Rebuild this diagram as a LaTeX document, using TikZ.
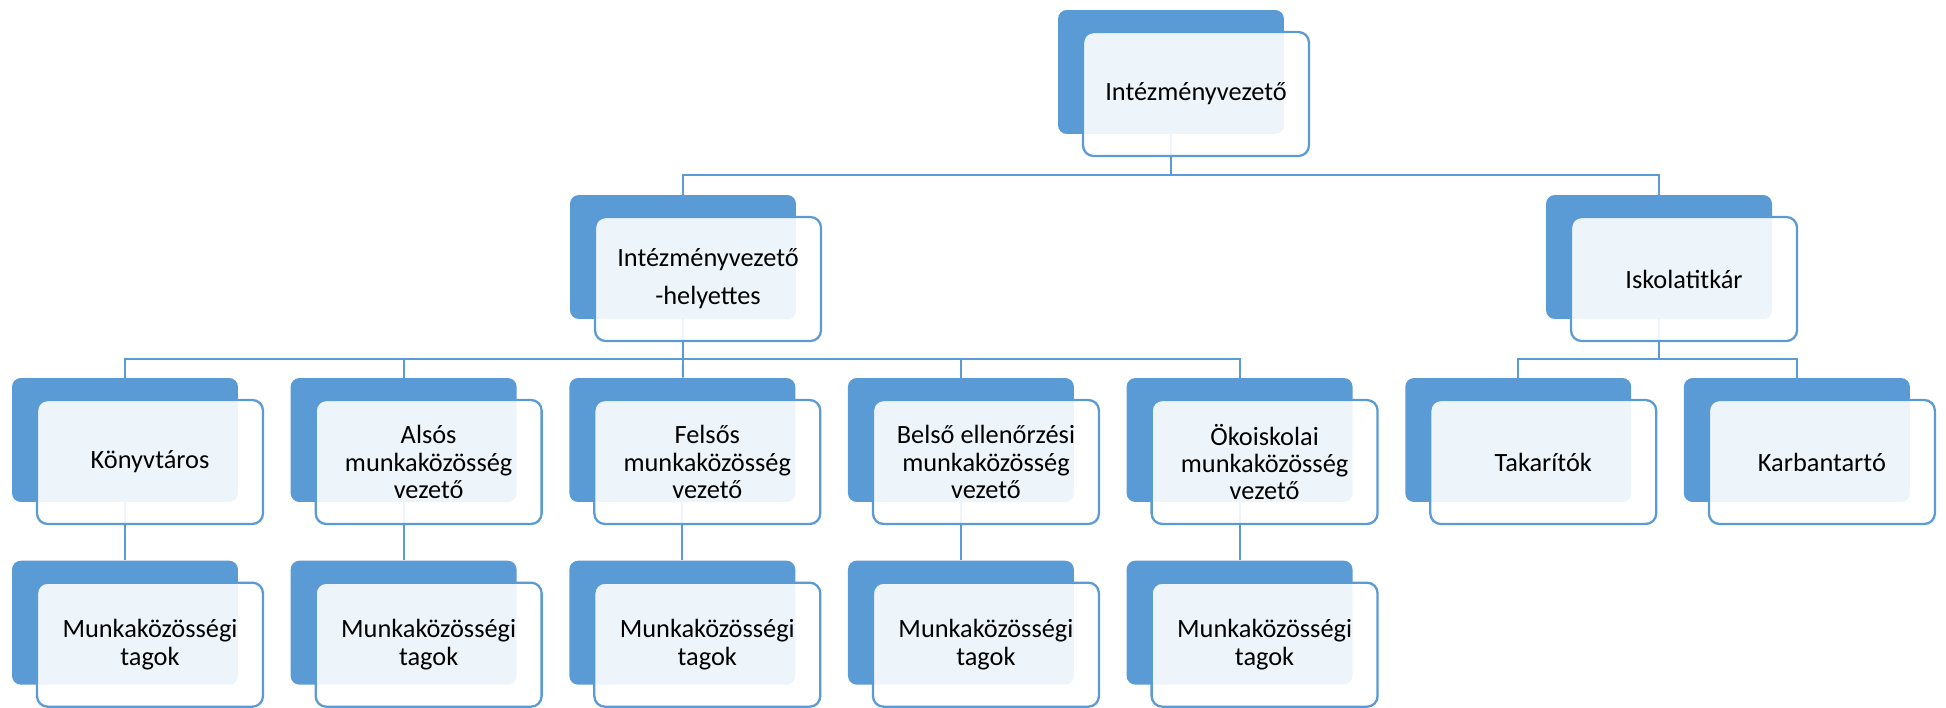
\documentclass[tikz,border=0pt]{standalone}
\usepackage{fontspec}
\setmainfont{Carlito}
\usetikzlibrary{positioning}
\definecolor{smblue}{HTML}{5B9BD5}
\tikzset{
  back/.style={rectangle,rounded corners=5pt,fill=smblue,inner sep=0pt,
    node distance=1.04cm,minimum width=4.52cm,minimum height=2.48cm},
  front/.style={rectangle,rounded corners=6pt,draw=smblue,line width=1.3pt,
    fill=white,fill opacity=0.9,text opacity=1,inner sep=2pt,
    minimum width=4.52cm,minimum height=2.48cm,align=center,
    font=\fontsize{15}{15.6}\selectfont},
  link/.style={smblue,line width=1.1pt},
}

\begin{document}
\begin{tikzpicture}[x=0.02cm,y=-0.02cm]
  \useasboundingbox (0,0) rectangle (1946,707);
  % back boxes
  \node (iv) at (1171,72) [back] {};
  \node (ivh) at (683,257) [back] {};
  \node (tit) at (1659,257) [back] {};
  \node (konyv) at (125,440) [back] {};
  \node (also) [back,right=of konyv] {};
  \node (felso) [back,right=of also] {};
  \node (belso) [back,right=of felso] {};
  \node (oko) [back,right=of belso] {};
  \node (tak) [back,right=of oko] {};
  \node (karb) [back,right=of tak] {};
  \node (konyv-tag) [back,below=1.16cm of konyv] {};
  \node (also-tag) [back,below=1.16cm of also] {};
  \node (felso-tag) [back,below=1.16cm of felso] {};
  \node (belso-tag) [back,below=1.16cm of belso] {};
  \node (oko-tag) [back,below=1.16cm of oko] {};
  % connectors
  \coordinate (bus1) at (0,175);
  \coordinate (bus2) at (0,359);
  \draw[link] (iv) -- (iv |- bus1) -| (ivh);
  \draw[link] (iv |- bus1) -| (tit);
  \draw[link] (ivh) -- (ivh |- bus2) -| (konyv);
  \draw[link] (ivh |- bus2) -| (also);
  \draw[link] (ivh |- bus2) -| (belso);
  \draw[link] (ivh |- bus2) -| (oko);
  \draw[link] (ivh |- bus2) -- (felso);
  \draw[link] (tit) -- (tit |- bus2) -| (tak);
  \draw[link] (tit |- bus2) -| (karb);
  \draw[link] (konyv) -- (konyv-tag);
  \draw[link] (also) -- (also-tag);
  \draw[link] (felso) -- (felso-tag);
  \draw[link] (belso) -- (belso-tag);
  \draw[link] (oko) -- (oko-tag);
  % front boxes
  \node (iv-f) at ([shift={(25,22)}]iv.center) [front] {Intézményvezető};
  \node (ivh-f) at ([shift={(25,22)}]ivh.center) [front] {Intézményvezető\\[6pt]-helyettes};
  \node (tit-f) at ([shift={(25,22)}]tit.center) [front] {Iskolatitkár};
  \node (konyv-f) at ([shift={(25,22)}]konyv.center) [front] {Könyvtáros};
  \node (also-f) at ([shift={(25,22)}]also.center) [front] {Alsós\\munkaközösség\\vezető};
  \node (felso-f) at ([shift={(25,22)}]felso.center) [front] {Felsős\\munkaközösség\\vezető};
  \node (belso-f) at ([shift={(25,22)}]belso.center) [front] {Belső ellenőrzési\\munkaközösség\\vezető};
  \node (oko-f) at ([shift={(25,22)}]oko.center) [front] {Ökoiskolai\\munkaközösség\\vezető};
  \node (tak-f) at ([shift={(25,22)}]tak.center) [front] {Takarítók};
  \node (karb-f) at ([shift={(25,22)}]karb.center) [front] {Karbantartó};
  \node (konyv-tag-f) at ([shift={(25,22)}]konyv-tag.center) [front] {Munkaközösségi\\tagok};
  \node (also-tag-f) at ([shift={(25,22)}]also-tag.center) [front] {Munkaközösségi\\tagok};
  \node (felso-tag-f) at ([shift={(25,22)}]felso-tag.center) [front] {Munkaközösségi\\tagok};
  \node (belso-tag-f) at ([shift={(25,22)}]belso-tag.center) [front] {Munkaközösségi\\tagok};
  \node (oko-tag-f) at ([shift={(25,22)}]oko-tag.center) [front] {Munkaközösségi\\tagok};
\end{tikzpicture}
\end{document}
